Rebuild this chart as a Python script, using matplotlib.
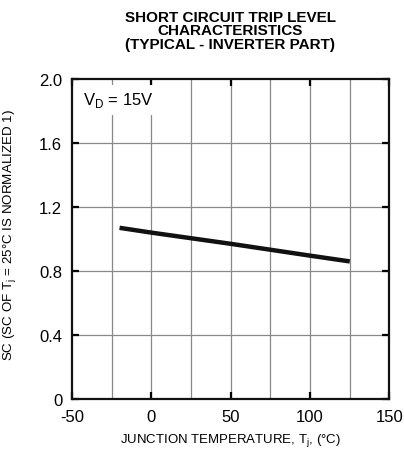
import matplotlib
matplotlib.use('Agg')
import matplotlib.pyplot as plt
import numpy as np

# data
temp_c = [-20, 0, 25, 50, 75, 100, 125]
sc_norm = [1.07, 1.04, 1.005, 0.97, 0.933, 0.896, 0.86]

x_ticks = [-50, 0, 50, 100, 150]
y_ticks = [0, 0.4, 0.8, 1.2, 1.6, 2.0]
y_tick_labels = ['0', '0.4', '0.8', '1.2', '1.6', '2.0']
x_grid = [-25, 0, 25, 50, 75, 100, 125]

plt.rcParams['font.family'] = ['Liberation Sans', 'DejaVu Sans']

fig = plt.figure(figsize=(4.04, 4.52), dpi=100)
ax = fig.add_axes([0.178, 0.115, 0.786, 0.708])

for xg in x_grid:
    ax.axvline(xg, color='#888888', lw=0.9, zorder=1)
for yg in y_ticks[1:-1]:
    ax.axhline(yg, color='#888888', lw=0.9, zorder=1)

ax.plot(temp_c, sc_norm, color='#111111', lw=3.2, solid_capstyle='butt', zorder=3)

ax.set_xlim(-50, 150)
ax.set_ylim(0, 2.0)
ax.set_xticks(x_ticks)
ax.set_xticklabels([str(v) for v in x_ticks], fontsize=12)
ax.set_yticks(y_ticks)
ax.set_yticklabels(y_tick_labels, fontsize=12)
ax.tick_params(direction='in', length=5, width=1.6, top=True, right=True)
ax.tick_params(axis='x', pad=7)
ax.tick_params(axis='y', pad=7)
for s in ax.spines.values():
    s.set_linewidth(1.6)
    s.set_color('#111111')

ax.text(-43, 1.87, r'V$_\mathregular{D}$ = 15V', fontsize=12, va='center', ha='left',
        bbox=dict(facecolor='white', edgecolor='none', pad=4), zorder=4)

ax.set_xlabel(r'JUNCTION TEMPERATURE, T$_\mathregular{j}$, (°C)', fontsize=9.5, labelpad=5)
ax.set_ylabel(r'SC (SC OF T$_\mathregular{j}$ = 25°C IS NORMALIZED 1)', fontsize=9.6)
ax.yaxis.set_label_coords(-0.169, 0.516)

fig.text(0.570, 0.975, 'SHORT CIRCUIT TRIP LEVEL\nCHARACTERISTICS\n(TYPICAL - INVERTER PART)',
         ha='center', va='top', fontsize=11, weight='bold', linespacing=0.92)

fig.savefig('out.png', dpi=100, facecolor='white')
